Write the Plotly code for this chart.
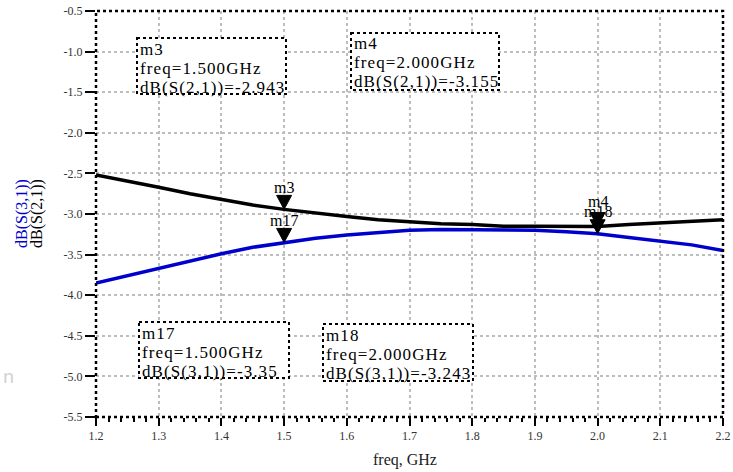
import plotly.graph_objects as go

freq = [1.20, 1.25, 1.30, 1.35, 1.40, 1.45, 1.50, 1.55, 1.60, 1.65, 1.70,
        1.75, 1.80, 1.85, 1.90, 1.95, 2.00, 2.05, 2.10, 2.15, 2.20]
s21 = [-2.52, -2.59, -2.67, -2.75, -2.82, -2.89, -2.943, -2.99, -3.03, -3.07, -3.10,
       -3.12, -3.13, -3.15, -3.15, -3.155, -3.155, -3.13, -3.11, -3.08, -3.07]
s31 = [-3.85, -3.76, -3.67, -3.57, -3.49, -3.41, -3.35, -3.30, -3.26, -3.23, -3.20,
       -3.19, -3.19, -3.20, -3.20, -3.22, -3.243, -3.29, -3.33, -3.38, -3.45]

marker_names = ["m3", "m4", "m17", "m18"]
marker_freq = [1.5, 2.0, 1.5, 2.0]
marker_vals = [-2.943, -3.155, -3.35, -3.243]
marker_labels = ["dB(S(2,1))=-2.943", "dB(S(2,1))=-3.155",
                 "dB(S(3,1))=-3.35", "dB(S(3,1))=-3.243"]
marker_freq_text = ["freq=1.500GHz", "freq=2.000GHz", "freq=1.500GHz", "freq=2.000GHz"]

xticks = [1.2, 1.3, 1.4, 1.5, 1.6, 1.7, 1.8, 1.9, 2.0, 2.1, 2.2]
yticks = [-0.5, -1.0, -1.5, -2.0, -2.5, -3.0, -3.5, -4.0, -4.5, -5.0, -5.5]

SERIF = "Liberation Serif, Times New Roman, Times, DejaVu Serif, serif"

fig = go.Figure()
fig.add_trace(go.Scatter(x=freq, y=s21, mode="lines", line=dict(color="#000000", width=3.5),
                         name="dB(S(2,1))", showlegend=False))
fig.add_trace(go.Scatter(x=freq, y=s31, mode="lines", line=dict(color="#0000cc", width=3.5),
                         name="dB(S(3,1))", showlegend=False))

shapes = []
annotations = []

# marker triangles (tip at the data point)
for name, fx, fy in zip(marker_names, marker_freq, marker_vals):
    shapes.append(dict(type="path", xref="x", yref="y", xsizemode="pixel", ysizemode="pixel",
                       xanchor=fx, yanchor=fy, path="M -7.5,14 L 7.5,14 L 0,0 Z",
                       fillcolor="#000000", line=dict(color="#000000", width=1), layer="above"))

label_shift = {"m3": 22, "m4": 25, "m17": 22, "m18": 22}
for name, fx, fy in zip(marker_names, marker_freq, marker_vals):
    annotations.append(dict(x=fx, y=fy, xref="x", yref="y", text=name, showarrow=False,
                            yshift=label_shift[name], xanchor="center", yanchor="middle",
                            font=dict(family=SERIF, size=16, color="#000000")))

W, H = 733, 472
L, R, T, B = 96, 723, 11, 417  # plot area in pixels


def px(x):
    return (x - L) / (R - L)


def py(y):
    return (B - y) / (B - T)


boxes = {"m3": (137, 38, 286, 94), "m4": (351, 33, 499, 90),
         "m17": (139, 322, 289, 378), "m18": (323, 324, 473, 381)}
for name, ftxt, ltxt in zip(marker_names, marker_freq_text, marker_labels):
    x0, y0, x1, y1 = boxes[name]
    shapes.append(dict(type="rect", xref="paper", yref="paper",
                       x0=px(x0), x1=px(x1), y0=py(y0), y1=py(y1),
                       line=dict(color="#000000", width=2, dash="dot"),
                       fillcolor="rgba(255,255,255,1)", layer="above"))
    for i, line in enumerate([name, ftxt, ltxt]):
        annotations.append(dict(xref="paper", yref="paper", x=px(x0 + 1), y=py(y0 + 11 + 19 * i),
                                xanchor="left", yanchor="middle", align="left", showarrow=False,
                                text='<span style="letter-spacing:1.1px">' + line + '</span>',
                                font=dict(family=SERIF, size=17, color="#000000")))

# plot border (dotted)
shapes.append(dict(type="rect", xref="paper", yref="paper", x0=0, x1=1, y0=0, y1=1,
                   line=dict(color="#000000", width=2.5, dash="dot"), layer="above"))

# y-axis titles
annotations.append(dict(xref="paper", yref="paper", x=px(22), y=py(214), text="dB(S(3,1))",
                        textangle=-90, showarrow=False, xanchor="center", yanchor="middle",
                        font=dict(family=SERIF, size=16, color="#0000cc")))
annotations.append(dict(xref="paper", yref="paper", x=px(37), y=py(214), text="dB(S(2,1))",
                        textangle=-90, showarrow=False, xanchor="center", yanchor="middle",
                        font=dict(family=SERIF, size=16, color="#000000")))
# x-axis title
annotations.append(dict(xref="paper", yref="paper", x=px(405), y=py(460), text="freq, GHz",
                        showarrow=False, xanchor="center", yanchor="middle",
                        font=dict(family=SERIF, size=16, color="#222222")))
# faint watermark fragment
annotations.append(dict(xref="paper", yref="paper", x=px(8), y=py(376), text="n",
                        showarrow=False, xanchor="center", yanchor="middle",
                        font=dict(family="Noto Sans", size=18, color="#d0d0d0")))

fig.update_layout(
    width=W, height=H,
    margin=dict(l=L, r=W - R, t=T, b=H - B, autoexpand=False),
    paper_bgcolor="white", plot_bgcolor="white",
    shapes=shapes, annotations=annotations,
    font=dict(family=SERIF, size=12, color="#333333"),
    xaxis=dict(range=[1.2, 2.2], tickvals=xticks, ticktext=[f"{v:.1f}" for v in xticks],
               showgrid=True, gridcolor="#bdbdbd", gridwidth=1.5, griddash="dot",
               ticks="outside", ticklen=8, tickwidth=2, tickcolor="#000000",
               minor=dict(dtick=0.02, tick0=1.2, ticks="outside", ticklen=4, tickwidth=2,
                          tickcolor="#000000", showgrid=False),
               zeroline=False, showline=False, automargin=False,
               tickfont=dict(family=SERIF, size=12, color="#333333")),
    yaxis=dict(range=[-5.5, -0.5], tickvals=yticks, ticktext=[f"{v:.1f}" for v in yticks],
               showgrid=True, gridcolor="#bdbdbd", gridwidth=1.5, griddash="dot",
               ticks="outside", ticklen=10, tickwidth=2, tickcolor="#000000",
               zeroline=False, showline=False, automargin=False,
               tickfont=dict(family=SERIF, size=12, color="#333333")),
)

fig.write_html("out.html", config={"displayModeBar": False},
               post_script="document.body.style.margin='0px';document.body.style.padding='0px';")
